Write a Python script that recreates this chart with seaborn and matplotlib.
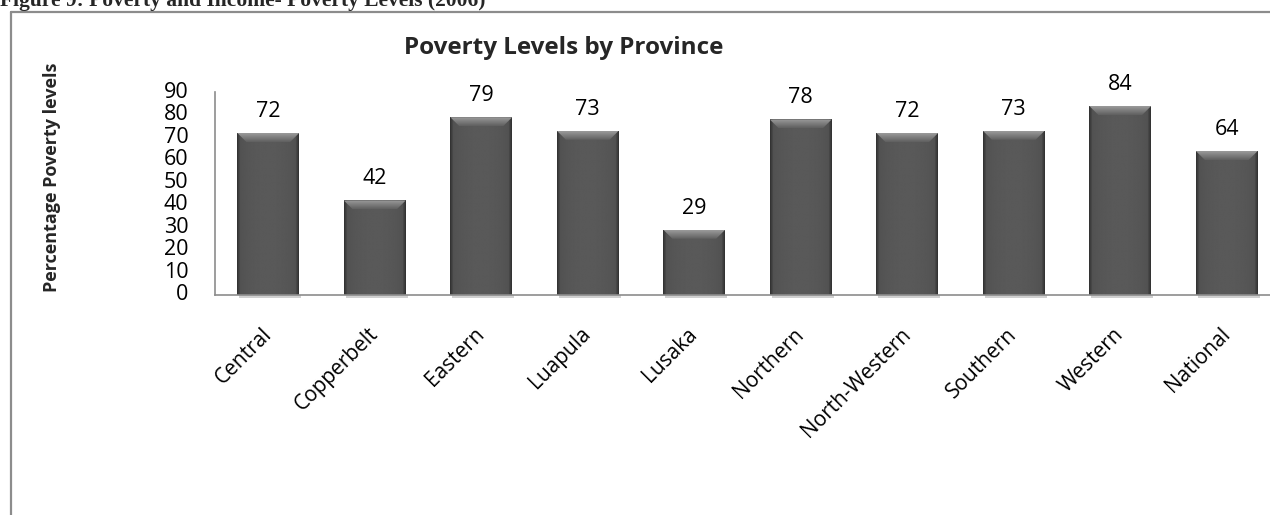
import numpy as np
import pandas as pd
import matplotlib
matplotlib.use("Agg")
import matplotlib.pyplot as plt
from matplotlib.patches import Polygon
from matplotlib.lines import Line2D
import seaborn as sns

# Poverty levels (%) by province, 2006
provinces = ["Central", "Copperbelt", "Eastern", "Luapula", "Lusaka",
             "Northern", "North-Western", "Southern", "Western", "National"]
poverty = [72, 42, 79, 73, 29, 78, 72, 73, 84, 64]
yticks = [0, 10, 20, 30, 40, 50, 60, 70, 80, 90]

df = pd.DataFrame({"province": provinces, "poverty": poverty})

sns.set_theme(style="white")
plt.rcParams["font.family"] = ["Open Sans", "DejaVu Sans"]

W, H, DPI = 1270, 515, 100
fig = plt.figure(figsize=(W / DPI, H / DPI), dpi=DPI)
fig.patch.set_facecolor("white")

# plot area (extends a little past the right edge of the page)
left, bottom, right, top = 215, 295, 1280, 92.5
ax = fig.add_axes([left / W, 1 - bottom / H, (right - left) / W, (bottom - top) / H])
ax.set_facecolor("none")

sns.barplot(data=df, x="province", y="poverty", color="#505050",
            width=0.58, ax=ax, saturation=1, edgecolor="none", zorder=2)

FS = 15.5
ax.set_ylim(0, 90)
ax.set_xlim(-0.5, len(provinces) - 0.5)
ax.set_yticks(yticks)
ax.set_yticklabels([str(t) for t in yticks])
ax.tick_params(axis="y", length=0, pad=19, labelsize=FS, labelcolor="black")
ax.tick_params(axis="x", length=0, pad=26, labelsize=FS - 0.5, labelcolor="black")
for lab in ax.get_yticklabels():
    lab.set_va("center")
for lab in ax.get_xticklabels():
    lab.set_rotation(45)
    lab.set_ha("right")
    lab.set_va("center")
    lab.set_rotation_mode("anchor")
ax.set_xlabel("")
ax.set_ylabel("")
for s in ["top", "right"]:
    ax.spines[s].set_visible(False)
for s in ["left", "bottom"]:
    ax.spines[s].set_color("#8c8c8c")
    ax.spines[s].set_linewidth(1.2)

fig.canvas.draw()
# pixel -> data scales for the bevel
px_x = 1.0 / ((right - left) / len(provinces))
px_y = 90.0 / (bottom - top)

# horizontal shading profile: darker toward the sides
xs = np.linspace(0, 1, 64)
profile = 0.30 + 0.05 * np.sin(np.pi * xs) ** 0.5
profile[:3] = [0.20, 0.24, 0.27]
profile[-3:] = [0.27, 0.24, 0.20]
body = np.tile(profile, (8, 1))

bars = list(ax.patches)
for p, val in zip(bars, poverty):
    x0, w, h = p.get_x(), p.get_width(), p.get_height()
    p.set_facecolor("none")
    im = ax.imshow(body, cmap="gray", vmin=0, vmax=1, aspect="auto",
                   extent=(x0, x0 + w, 0, h), zorder=2, interpolation="bilinear")
    im.set_clip_path(p)
    # soft shadow under the bar
    ax.add_patch(plt.Rectangle((x0 + 2 * px_x, -3 * px_y), w, 3 * px_y,
                               facecolor="#d0d0d0", edgecolor="none",
                               zorder=1, clip_on=False))
    # lighter top bevel
    dx, dy = 9 * px_x, 9 * px_y
    bevel = Polygon([(x0, h), (x0 + w, h), (x0 + w - dx, h - dy), (x0 + dx, h - dy)],
                    closed=True, facecolor="none", edgecolor="none")
    ax.add_patch(bevel)
    grad = np.linspace(0.60, 0.38, 16).reshape(-1, 1) * np.ones((1, 8))
    bim = ax.imshow(grad, cmap="gray", vmin=0, vmax=1, aspect="auto",
                    extent=(x0, x0 + w, h - dy, h), zorder=3, interpolation="bilinear")
    bim.set_clip_path(bevel)
    ax.annotate(str(val), (x0 + w / 2, h), xytext=(0, 8), textcoords="offset points",
                ha="center", va="bottom", fontsize=FS, color="black",
                annotation_clip=False)

ax.set_xlim(-0.5, len(provinces) - 0.5)
ax.set_ylim(0, 90)

fig.text(564 / W, 1 - 48 / H, "Poverty Levels by Province", ha="center", va="center",
         fontsize=17.5, fontweight="bold")
fig.text(52 / W, 1 - 177 / H, "Percentage Poverty levels", ha="center", va="center",
         rotation=90, fontsize=13, fontweight="bold")

# caption and page frame
fig.text(0, 1 - 6 / H, "Figure 9: Poverty and Income- Poverty Levels (2006)",
         ha="left", va="baseline", fontsize=15.5, fontweight="bold",
         family="Liberation Serif")
fig.add_artist(Line2D([10.5 / W, 1], [1 - 11.5 / H, 1 - 11.5 / H],
                      color="#8c8c8c", lw=1.6, transform=fig.transFigure))
fig.add_artist(Line2D([10.5 / W, 10.5 / W], [0, 1 - 11.5 / H],
                      color="#8c8c8c", lw=1.6, transform=fig.transFigure))

fig.savefig("out.png", dpi=DPI, facecolor="white")
